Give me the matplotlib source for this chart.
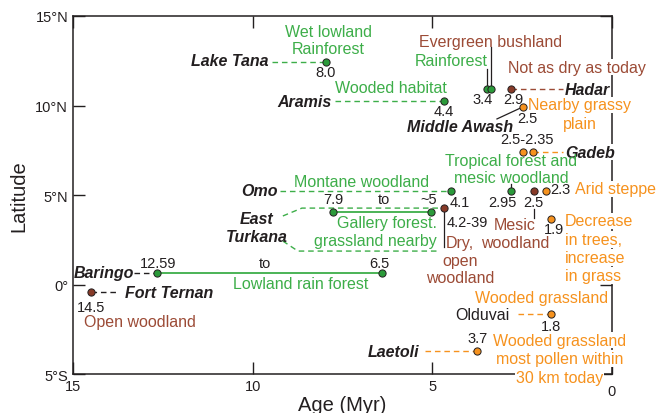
import matplotlib.pyplot as plt

plt.rcParams['font.family'] = ['Liberation Sans', 'DejaVu Sans']

GREEN = '#3dae49'
DKGREEN = '#2b9a3a'
BROWN = '#9c4b36'
DKBROWN = '#873a28'
ORANGE = '#f6921e'
INK = '#231f20'

# site points: age (Myr) and latitude (deg N), grouped by habitat colour
green_age = [7.96, 4.67, 3.48, 3.37, 4.48, 2.81, 7.76, 5.04, 12.66, 6.40]
green_lat = [12.43, 10.25, 10.92, 10.92, 5.22, 5.22, 4.05, 4.05, 0.64, 0.64]
brown_age = [2.81, 2.17, 4.67, 14.50]
brown_lat = [10.92, 5.22, 4.27, -0.42]
orange_age = [2.48, 2.48, 2.20, 1.84, 1.70, 1.70, 3.76]
orange_lat = [9.92, 7.40, 7.40, 5.22, 3.66, -1.65, -3.72]

x_ticks = [15, 10, 5, 0]
x_ticklabels = ['15', '10', '5', '0']
y_ticks = [-5, 0, 5, 10, 15]
y_ticklabels = ['5°S', '0°', '5°N', '10°N', '15°N']

fig = plt.figure(figsize=(6.58, 4.14), dpi=100)
ax = fig.add_axes([0.111, 0.094, 0.819, 0.865])
ax.set_xlim(15, 0)
ax.set_ylim(-5, 15)
ax.set_xticks(x_ticks)
# last x label sits a little lower in the original, drawn separately below
ax.set_xticklabels(x_ticklabels[:-1] + [''])
ax.set_yticks(y_ticks)
ax.set_yticklabels(y_ticklabels)
ax.tick_params(direction='in', length=8.5, width=1, top=True, right=True,
               labelsize=10.5, pad=3.5, colors=INK)
for s in ax.spines.values():
    s.set_linewidth(1.1)
    s.set_color(INK)
ax.text(x_ticks[-1], -0.047, x_ticklabels[-1], transform=ax.get_xaxis_transform(),
        ha='center', va='center', fontsize=10.5, color=INK, zorder=5)
ax.set_xlabel('Age (Myr)', fontsize=14.5, labelpad=1.5, color=INK)
ax.set_ylabel('Latitude', fontsize=14.5, labelpad=5, color=INK)


def dash(x, y, color):
    ax.plot(x, y, ls=(0, (4, 2.8)), lw=1, color=color, zorder=3)


def stick(x, y):
    ax.plot(x, y, color=INK, lw=0.9, zorder=3)


def label(x, y, s, color=INK, size=11.5, ha='center', box=False, **kw):
    bb = dict(fc='white', ec='none', pad=0.6) if box else None
    ax.text(x, y, s, color=color, fontsize=size, ha=ha, va='center',
            bbox=bb, zorder=4, **kw)


def boxlines(x, y, lines, color, ha='center', step=1.02):
    # one white box per line so the frame shows between short lines
    for i, s in enumerate(lines):
        label(x, y - i * step, s, color, ha=ha, box=True)


def num(x, y, s, ha='center'):
    label(x, y, s, size=10.5, ha=ha)


def site(x, y, s, ha='center', box=False):
    label(x, y, s, ha=ha, box=box, fontstyle='italic', fontweight='bold')


# dashed leaders from site names to points
dash([9.45, green_age[0]], [green_lat[0]] * 2, GREEN)
dash([7.71, green_age[1]], [green_lat[1]] * 2, GREEN)
dash([9.25, green_age[4]], [green_lat[4]] * 2, GREEN)
dash([brown_age[0], 1.36], [brown_lat[0]] * 2, BROWN)
dash([orange_age[2], 1.36], [orange_lat[2]] * 2, ORANGE)
dash([2.61, orange_age[5]], [orange_lat[5]] * 2, ORANGE)
dash([5.20, orange_age[6]], [orange_lat[6]] * 2, ORANGE)
dash([13.30, green_age[8]], [green_lat[8]] * 2, INK)
dash([brown_age[3], 13.75], [brown_lat[3]] * 2, INK)
# East Turkana bracket
dash([9.16, 8.63, brown_age[2]], [3.83, brown_lat[2], brown_lat[2]], GREEN)
dash([9.16, 8.74, 4.79], [2.43, 1.87, 1.87], GREEN)

# age ranges
ax.plot(green_age[6:8], green_lat[6:8], color=GREEN, lw=1.3, zorder=3)
ax.plot(green_age[8:10], green_lat[8:10], color=GREEN, lw=1.3, zorder=3)

# pointer sticks
stick([green_age[3]] * 2, [green_lat[3], 13.27])
stick([green_age[2]] * 2, [green_lat[2], 12.04])
stick([3.20, orange_age[0]], [9.25, orange_lat[0]])
stick([green_age[5]] * 2, [green_lat[5], 5.61])
stick([brown_age[1]] * 2, [4.22, 3.72])
stick([brown_age[2]] * 2, [brown_lat[2], 2.09])

mk = dict(ls='none', marker='o', ms=5.2, mec=INK, mew=0.7, zorder=5)
ax.plot(green_age, green_lat, mfc=DKGREEN, **mk)
ax.plot(brown_age, brown_lat, mfc=DKBROWN, **mk)
ax.plot(orange_age, orange_lat, mfc=ORANGE, **mk)

# labels
site(9.57, 12.49, 'Lake Tana', 'right')
label(7.90, 13.66, 'Wet lowland\nRainforest', GREEN)
num(7.96, 11.87, '8.0')
site(7.79, 10.25, 'Aramis', 'right')
label(6.15, 11.03, 'Wooded habitat', GREEN)
num(4.67, 9.69, '4.4')
label(3.37, 13.60, 'Evergreen bushland', BROWN)
label(4.48, 12.49, 'Rainforest', GREEN)
num(3.59, 10.36, '3.4')
num(2.75, 10.36, '2.9')
site(1.31, 10.92, 'Hadar', 'left', box=True)
label(0.97, 12.15, 'Not as dry as today', BROWN, box=True)
boxlines(0.89, 10.03, ['Nearby grassy', 'plain'], ORANGE, step=1.06)
num(2.34, 9.30, '2.5')
site(4.23, 8.85, 'Middle Awash')
num(2.36, 8.13, '2.5-2.35')
site(1.31, 7.40, 'Gadeb', 'left', box=True)
label(2.81, 6.45, 'Tropical forest and\nmesic woodland', GREEN)
site(9.29, 5.28, 'Omo', 'right')
label(6.96, 5.73, 'Montane woodland', GREEN)
num(7.76, 4.78, '7.9')
num(6.34, 4.78, 'to')
num(5.09, 4.78, '~5')
num(4.23, 4.61, '4.1')
num(3.06, 4.61, '2.95')
num(2.20, 4.61, '2.5')
num(1.72, 5.34, '2.3', ha='left')
label(1.03, 5.34, 'Arid steppe', ORANGE, ha='left', box=True)
label(2.70, 2.85, 'Mesic\nwoodland', BROWN)
num(1.61, 3.10, '1.9')
boxlines(1.31, 3.55, ['Decrease', 'in trees,', 'increase', 'in grass'], ORANGE,
         ha='left')
num(4.59, 3.49, '4.2-39', ha='left')
label(4.23, 1.37, 'Dry,\nopen\nwoodland', BROWN)
site(9.88, 3.18, 'East\nTurkana')
label(4.87, 2.96, 'Gallery forest.\ngrassland nearby', GREEN, ha='right')
site(13.30, 0.70, 'Baringo', 'right')
num(12.63, 1.20, '12.59')
num(9.66, 1.20, 'to')
num(6.46, 1.20, '6.5')
label(8.65, 0.08, 'Lowland rain forest', GREEN)
site(13.55, -0.42, 'Fort Ternan', 'left')
num(14.50, -1.26, '14.5')
label(13.14, -2.04, 'Open woodland', BROWN)
label(1.97, -0.75, 'Wooded grassland', ORANGE)
label(2.84, -1.65, 'Olduvai', ha='right')
num(1.70, -2.32, '1.8')
site(5.37, -3.72, 'Laetoli', 'right')
num(3.73, -2.99, '3.7')
boxlines(1.45, -3.10, ['Wooded grassland', 'most pollen within', '30 km today'],
         ORANGE, step=1.04)

fig.savefig('out.png', dpi=100)
